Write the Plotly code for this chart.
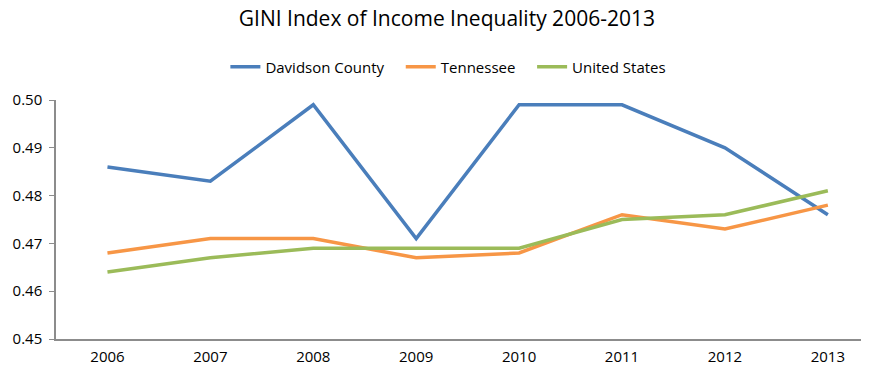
import plotly.graph_objects as go

years = ["2006", "2007", "2008", "2009", "2010", "2011", "2012", "2013"]
davidson = [0.486, 0.483, 0.499, 0.471, 0.499, 0.499, 0.490, 0.476]
tennessee = [0.468, 0.471, 0.471, 0.467, 0.468, 0.476, 0.473, 0.478]
united_states = [0.464, 0.467, 0.469, 0.469, 0.469, 0.475, 0.476, 0.481]

series = [
    ("Davidson County", davidson, "#4a7ebb"),
    ("Tennessee", tennessee, "#f79646"),
    ("United States", united_states, "#9bbb59"),
]

fig = go.Figure()
for name, vals, color in series:
    fig.add_trace(go.Scatter(x=years, y=vals, name=name + "\u00a0\u00a0\u00a0", mode="lines",
                             line=dict(color=color, width=3.5)))

font_family = "Open Sans, Lato, sans-serif"
fig.update_layout(
    width=869, height=367,
    paper_bgcolor="white", plot_bgcolor="white",
    margin=dict(l=48, r=9, t=92, b=36, autoexpand=False),
    font=dict(family=font_family, size=15, color="#000000"),
    title=dict(text="GINI Index of Income Inequality 2006-2013", x=0.505, xanchor="center",
               y=0.99, yanchor="top", xref="container", yref="container",
               pad=dict(t=0, b=0),
               font=dict(size=21, color="#000000")),
    legend=dict(orientation="h", x=0.49, xanchor="center", y=1.138, yanchor="middle",
                font=dict(size=15), itemwidth=30, tracegroupgap=0),
    xaxis=dict(type="category", range=[-0.5, 7.39], showline=True, linecolor="#8c8c8c",
               linewidth=1.5, ticks="", showgrid=False, zeroline=False,
               tickfont=dict(size=15), ticklabelstandoff=3),
    yaxis=dict(range=[0.45, 0.50], dtick=0.01, tickformat=".2f", showline=True,
               linecolor="#8c8c8c", linewidth=1.5, ticks="outside", ticklen=5,
               tickcolor="#8c8c8c", showgrid=False, zeroline=False,
               tickfont=dict(size=15), ticklabelstandoff=4),
)

fig.write_html("out.html")
